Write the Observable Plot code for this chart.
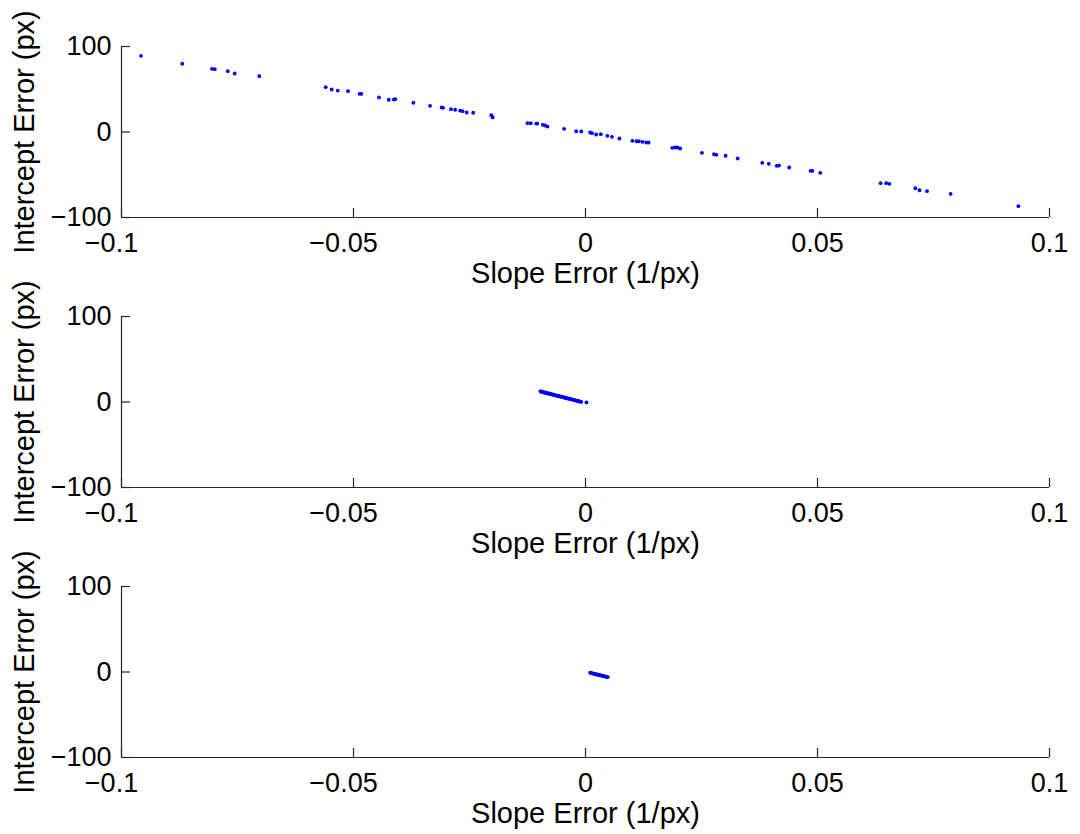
<!DOCTYPE html>
<html>
<head>
<meta charset="utf-8">
<script src="https://cdn.jsdelivr.net/npm/d3@7"></script>
<script src="https://cdn.jsdelivr.net/npm/@observablehq/plot@0.6"></script>
<style>
  html, body { margin: 0; background: #fff; }
  #chart { width: 1080px; height: 834px; }
  #chart svg { display: block; overflow: visible; background: transparent; }
</style>
</head>
<body>
<div id="chart"></div>
<script>
// Panel 1: widely scattered estimates
const slope1 = [-0.0958, -0.0869, -0.0805, -0.0799, -0.0771, -0.0756, -0.0703, -0.0560, -0.0547, -0.0534,
  -0.0512, -0.0487, -0.0483, -0.0445, -0.0424, -0.0413, -0.0410, -0.0371, -0.0335, -0.0310,
  -0.0307, -0.0290, -0.0281, -0.0270, -0.0265, -0.0256, -0.0242, -0.0203, -0.0200, -0.0125,
  -0.0118, -0.0106, -0.0104, -0.0092, -0.0087, -0.0082, -0.0046, -0.0020, -0.0009, 0.0010,
  0.0014, 0.0023, 0.0033, 0.0047, 0.0057, 0.0073, 0.0101, 0.0110, 0.0115, 0.0123,
  0.0131, 0.0136, 0.0187, 0.0193, 0.0198, 0.0204, 0.0251, 0.0277, 0.0282, 0.0302,
  0.0328, 0.0381, 0.0395, 0.0412, 0.0417, 0.0439, 0.0485, 0.0489, 0.0506, 0.0636,
  0.0648, 0.0655, 0.0711, 0.0720, 0.0736, 0.0787, 0.0933];
const intercept1 = [89.1, 79.8, 73.9, 73.5, 71.1, 68.4, 65.3, 52.4, 49.7, 48.5,
  47.7, 44.7, 44.7, 40.4, 37.7, 38.0, 38.4, 34.2, 30.6, 28.7,
  28.3, 26.7, 26.0, 25.1, 24.3, 22.8, 22.5, 19.6, 17.0, 10.3,
  10.3, 9.9, 9.9, 8.4, 7.6, 6.4, 3.7, 0.9, 0.6, -0.6,
  -1.4, -2.9, -2.6, -4.5, -5.6, -7.6, -10.3, -10.8, -10.8, -11.5,
  -12.3, -12.3, -18.5, -18.1, -18.1, -19.3, -24.3, -26.0, -26.7, -27.8,
  -31.0, -36.1, -37.2, -39.6, -39.2, -41.5, -45.4, -45.4, -47.8, -59.9,
  -59.9, -60.6, -65.7, -68.1, -69.2, -72.3, -86.8];

// Panel 2: tight cluster left of zero
const slope2 = [-0.0097, -0.0095, -0.0093, -0.0091, -0.0089, -0.0087, -0.0085, -0.0083, -0.0081, -0.0079,
  -0.0077, -0.0075, -0.0073, -0.0071, -0.0069, -0.0067, -0.0065, -0.0063, -0.0061, -0.0059,
  -0.0057, -0.0055, -0.0053, -0.0051, -0.0049, -0.0047, -0.0045, -0.0043, -0.0041, -0.0039,
  -0.0037, -0.0035, -0.0033, -0.0031, -0.0029, -0.0027, -0.0025, -0.0023, -0.0021, -0.0019,
  -0.0017, -0.0015, -0.0013, -0.0011, -0.0009, 0.0002];
const intercept2 = [12.6, 12.1, 11.6, 11.7, 11.0, 11.1, 10.5, 10.6, 9.9, 10.0,
  9.4, 9.5, 8.9, 8.8, 8.3, 8.4, 7.8, 7.7, 7.2, 7.3,
  6.7, 6.6, 6.1, 6.2, 5.6, 5.5, 5.0, 5.1, 4.5, 4.4,
  3.9, 3.9, 3.4, 3.3, 2.8, 2.8, 2.3, 2.2, 1.7, 1.7,
  1.2, 1.1, 0.6, 0.5, 0.2, -0.5];

// Panel 3: tight cluster right of zero
const slope3 = [0.0010, 0.0012, 0.0014, 0.0016, 0.0018, 0.0020, 0.0022, 0.0024, 0.0026, 0.0028,
  0.0030, 0.0032, 0.0034, 0.0036, 0.0038, 0.0040, 0.0042, 0.0044, 0.0046, 0.0048];
const intercept3 = [-0.8, -1.3, -1.3, -1.8, -1.9, -2.4, -2.4, -2.9, -2.9, -3.4,
  -3.5, -3.9, -4.0, -4.5, -4.6, -5.0, -5.1, -5.6, -5.6, -5.9];

const xTicks = [-0.1, -0.05, 0, 0.05, 0.1];
const yTicks = [-100, 0, 100];
const xLabel = "Slope Error (1/px)";
const yLabel = "Intercept Error (px)";

// Layout of one panel (titles spill past the panel box, so svg overflow is visible)
const W = 1080, H = 270, ML = 121, MR = 31, MT = 46, MB = 53;
const frameW = W - ML - MR, frameH = H - MT - MB;
const TICK = 9;
const axisColor = "#262626";
const font = "'Liberation Sans', Arial, Helvetica, sans-serif";
const tickFont = 27, titleFont = 29;

const fmt = v => v === 0 ? "0" : (v < 0 ? "\u2212" : "") + String(Math.abs(v));

function panel(slopes, intercepts) {
  const data = slopes.map((s, i) => ({slope: s, intercept: intercepts[i]}));
  return Plot.plot({
    width: W, height: H,
    marginLeft: ML, marginRight: MR, marginTop: MT, marginBottom: MB,
    style: {fontFamily: font, fontSize: tickFont + "px", color: "#000", overflow: "visible", background: "transparent"},
    x: {domain: [-0.1, 0.1]},
    y: {domain: [-100, 100]},
    marks: [
      // axis lines (left and bottom only)
      Plot.ruleY([-100], {stroke: axisColor, strokeWidth: 1.2}),
      Plot.ruleX([-0.1], {stroke: axisColor, strokeWidth: 1.2}),
      // inward ticks
      Plot.tickX(xTicks, {x: d => d, insetTop: frameH - TICK, stroke: axisColor, strokeWidth: 1.2}),
      Plot.tickY(yTicks, {y: d => d, insetRight: frameW - TICK, stroke: axisColor, strokeWidth: 1.2}),
      // tick labels
      Plot.axisX(xTicks.filter(d => d < 0), {tickSize: 0, tickPadding: 15, tickFormat: fmt, label: null, dx: -10, fontSize: tickFont, fill: "#000"}),
      Plot.axisX(xTicks.filter(d => d >= 0), {tickSize: 0, tickPadding: 15, tickFormat: fmt, label: null, fontSize: tickFont, fill: "#000"}),
      Plot.axisY(yTicks, {tickSize: 0, tickPadding: 10, tickFormat: fmt, label: null, fontSize: tickFont, fill: "#000"}),
      // axis titles
      Plot.text([xLabel], {text: d => d, frameAnchor: "bottom", textAnchor: "middle", dy: 65, lineAnchor: "bottom", fontSize: titleFont, fill: "#000"}),
      Plot.text([yLabel], {text: d => d, frameAnchor: "left", textAnchor: "middle", dx: -88, rotate: -90, lineAnchor: "bottom", fontSize: titleFont, fill: "#000"}),
      // estimates
      Plot.dot(data, {x: "slope", y: "intercept", r: 1.9, fill: "#0000ff"})
    ]
  });
}

const root = document.getElementById("chart");
root.append(panel(slope1, intercept1));
root.append(panel(slope2, intercept2));
root.append(panel(slope3, intercept3));
</script>
</body>
</html>
